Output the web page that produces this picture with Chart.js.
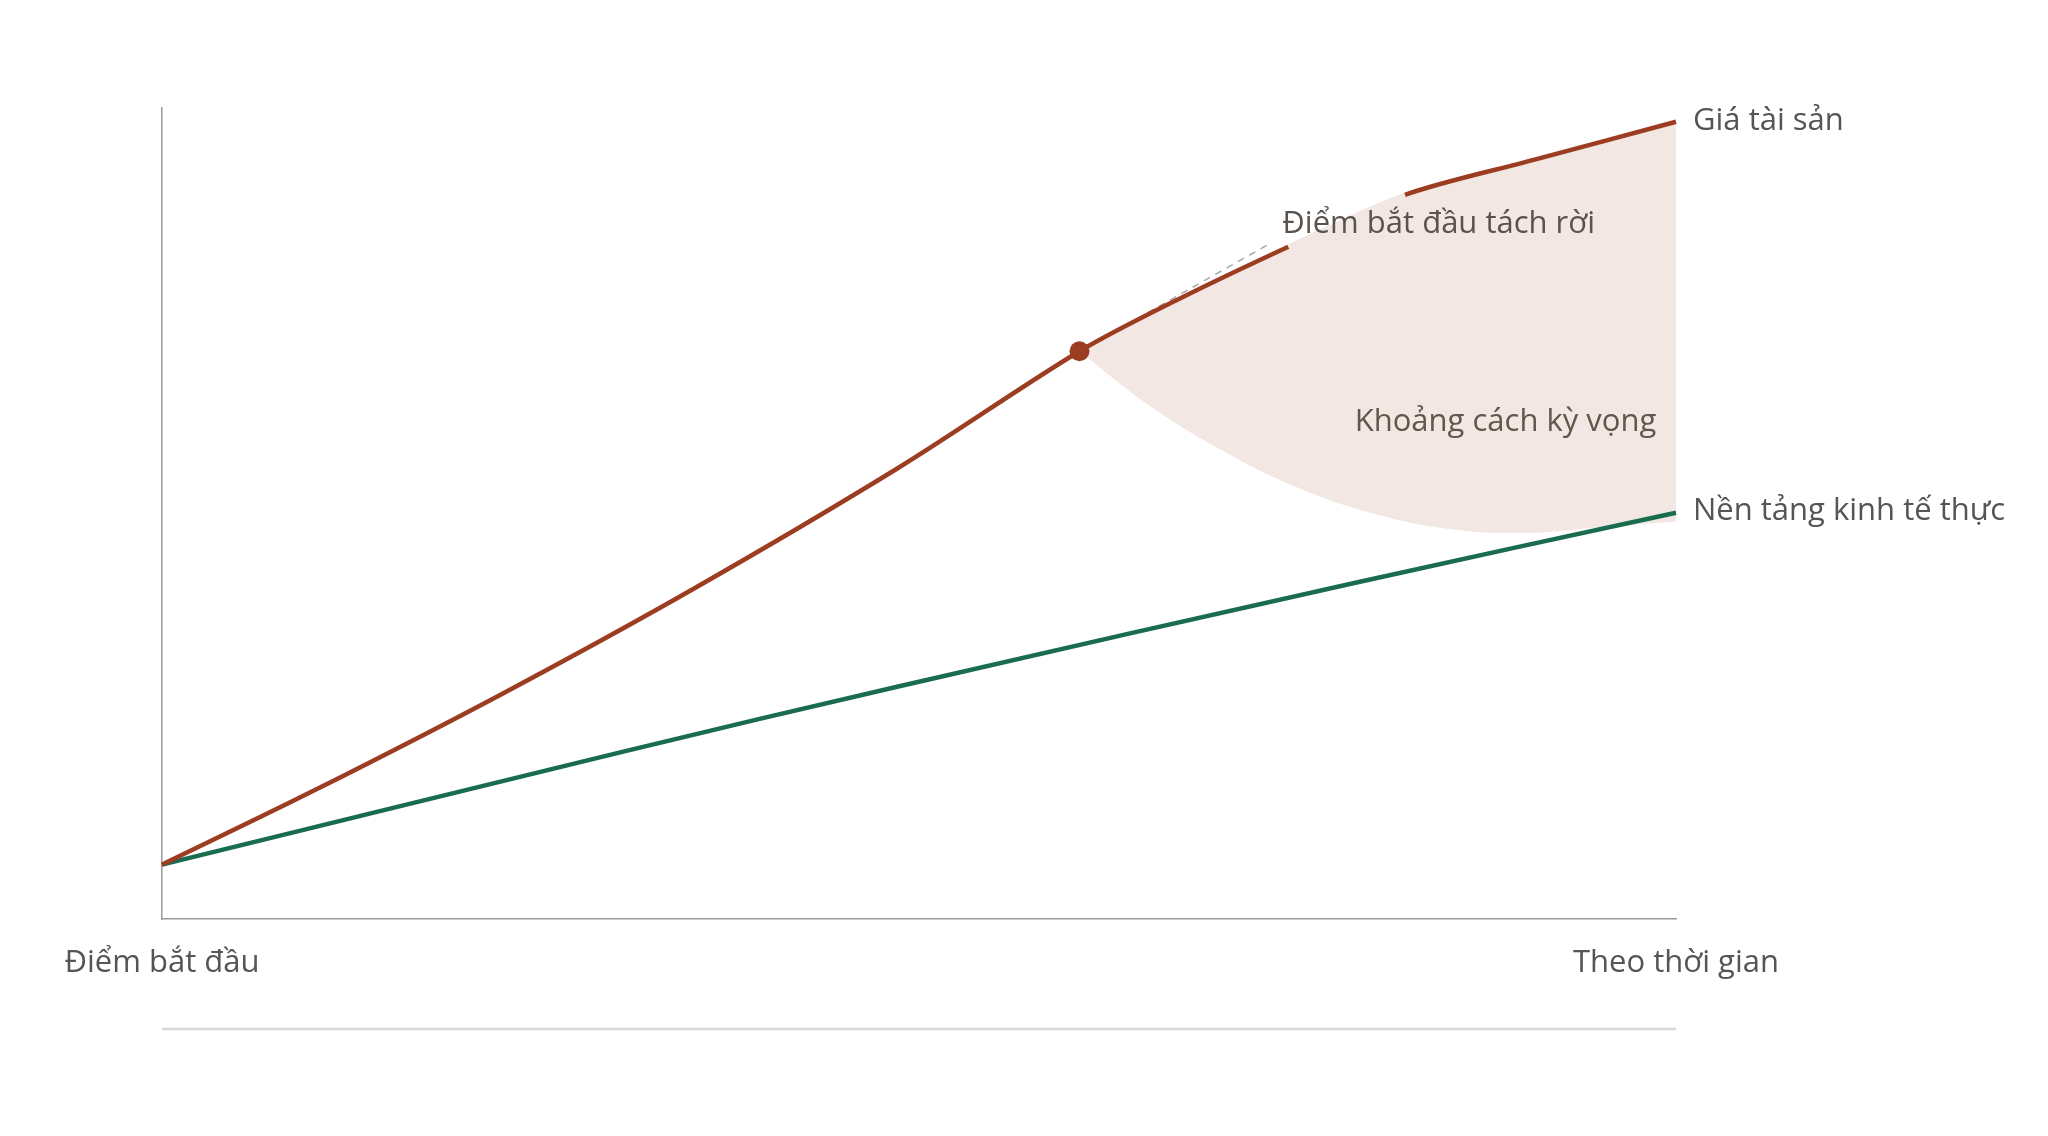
<!DOCTYPE html>
<html>
<head>
<meta charset="utf-8">
<script src="https://cdn.jsdelivr.net/npm/chart.js@4.4.0/dist/chart.umd.min.js"></script>
<style>
  html, body { margin: 0; padding: 0; background: #ffffff; }
  #wrap { width: 2048px; height: 1136px; position: relative; }
</style>
</head>
<body>
<div id="wrap"><canvas id="c"></canvas></div>
<script>
// ---- Data ----
const timeAsset   = [0, 10, 22.3, 35, 48.7, 60.6, 67.0, 74.4, 82.1, 90.6, 100];
const assetPrice  = [6.7, 15.8, 27.6, 40.6, 55.7, 70.0, 76.3, 82.9, 89.3, 93.6, 98.3];

const timeBase    = [0, 30.4, 48.7, 78.9, 100];
const basePrice   = [6.7, 20.6, 28.7, 41.5, 50.1];

const timeExpected = [60.6, 65, 70, 75, 80, 85, 90, 95, 100];
const expectedPath = [70.0, 63.6, 57.8, 53.2, 50.0, 48.1, 47.6, 48.3, 49.0];

const divergeTime  = [60.6];
const divergeValue = [70.0];

const leaderTime   = [60.6, 73.0];
const leaderValue  = [70.0, 83.1];

const xTickValues  = [0, 100];
const xTickLabels  = ['Điểm bắt đầu', 'Theo thời gian'];
const seriesNames  = ['Giá tài sản', 'Nền tảng kinh tế thực'];
const labelDiverge = 'Điểm bắt đầu tách rời';
const labelGap     = 'Khoảng cách kỳ vọng';

// positions of annotation labels (data coords)
const divergeLabelAt = [74.0, 85.7];
const gapLabelAt     = [98.7, 61.2];

const zip = (xs, ys) => xs.map((x, i) => ({ x, y: ys[i] }));

const RED = '#9c3d22';
const GREEN = '#1a6c4f';
const SHADE = 'rgb(242,231,227)';
const FONT = '"Open Sans", "Noto Sans", sans-serif';
const FSIZE = 31;

const textPlugin = {
  id: 'texts',
  afterDatasetsDraw(chart) {
    const { ctx, scales: { x, y }, chartArea } = chart;
    ctx.save();
    ctx.font = `${FSIZE}px ${FONT}`;
    ctx.textBaseline = 'middle';
    // end labels
    ctx.fillStyle = '#555555';
    ctx.textAlign = 'left';
    ctx.fillText(seriesNames[0], x.getPixelForValue(100) + 17, y.getPixelForValue(assetPrice[assetPrice.length - 1]) - 1);
    ctx.fillText(seriesNames[1], x.getPixelForValue(100) + 17, y.getPixelForValue(basePrice[basePrice.length - 1]) - 2);
    // x-axis end labels
    ctx.textAlign = 'center';
    xTickValues.forEach((v, i) => {
      ctx.fillText(xTickLabels[i], x.getPixelForValue(v), chartArea.bottom + 44);
    });
    // annotation labels
    ctx.textAlign = 'left';
    ctx.fillStyle = '#5a534d';
    ctx.fillText(labelDiverge, x.getPixelForValue(divergeLabelAt[0]), y.getPixelForValue(divergeLabelAt[1]));
    ctx.fillStyle = '#63564b';
    ctx.textAlign = 'right';
    ctx.fillText(labelGap, x.getPixelForValue(gapLabelAt[0]), y.getPixelForValue(gapLabelAt[1]));
    // bottom rule
    ctx.strokeStyle = '#d6d6d6';
    ctx.lineWidth = 2.5;
    ctx.beginPath();
    ctx.moveTo(chartArea.left, chartArea.bottom + 110);
    ctx.lineTo(chartArea.right, chartArea.bottom + 110);
    ctx.stroke();
    ctx.restore();
  }
};

new Chart(document.getElementById('c'), {
  type: 'line',
  data: {
    datasets: [
      { // divergence dot
        data: zip(divergeTime, divergeValue),
        showLine: false, pointRadius: 10, pointBackgroundColor: RED,
        pointBorderColor: RED, pointBorderWidth: 0, clip: false
      },
      { // asset price
        label: seriesNames[0],
        data: zip(timeAsset, assetPrice),
        borderColor: RED, borderWidth: 4.5, pointRadius: 0,
        tension: 0.3, fill: false, clip: false,
        borderCapStyle: 'butt',
        segment: {
          borderColor: c => (c.p0.parsed.x >= 74.3 && c.p1.parsed.x <= 82.2) ? SHADE : undefined
        }
      },
      { // dashed leader
        data: zip(leaderTime, leaderValue),
        borderColor: '#a8a8a8', borderWidth: 1.5, borderDash: [7, 6],
        pointRadius: 0, fill: false
      },
      { // real economy
        label: seriesNames[1],
        data: zip(timeBase, basePrice),
        borderColor: GREEN, borderWidth: 4.5, pointRadius: 0,
        tension: 0.4, fill: false, clip: false
      },
      { // invisible copy of asset price, used as the fill's upper edge
        data: zip(timeAsset, assetPrice),
        borderColor: 'rgba(0,0,0,0)', borderWidth: 0, pointRadius: 0,
        tension: 0.3, fill: false
      },
      { // expected path (lower edge of gap)
        data: zip(timeExpected, expectedPath),
        borderColor: 'rgba(0,0,0,0)', borderWidth: 0, pointRadius: 0,
        tension: 0.4,
        fill: 4, backgroundColor: SHADE
      }
    ]
  },
  options: {
    responsive: true,
    maintainAspectRatio: false,
    animation: false,
    devicePixelRatio: 1,
    layout: { padding: { left: 162, right: 372, top: 108, bottom: 217 } },
    plugins: { legend: { display: false }, tooltip: { enabled: false } },
    scales: {
      x: {
        type: 'linear', min: 0, max: 100,
        grid: { display: false, drawTicks: false },
        border: { display: true, color: '#9a9a9a', width: 1.5 },
        ticks: { display: false },
        afterFit: s => { s.height = 0; }
      },
      y: {
        type: 'linear', min: 0, max: 100,
        grid: { display: false, drawTicks: false },
        border: { display: true, color: '#9a9a9a', width: 1.5 },
        ticks: { display: false },
        afterFit: s => { s.width = 0; }
      }
    }
  },
  plugins: [textPlugin]
});
</script>
</body>
</html>
